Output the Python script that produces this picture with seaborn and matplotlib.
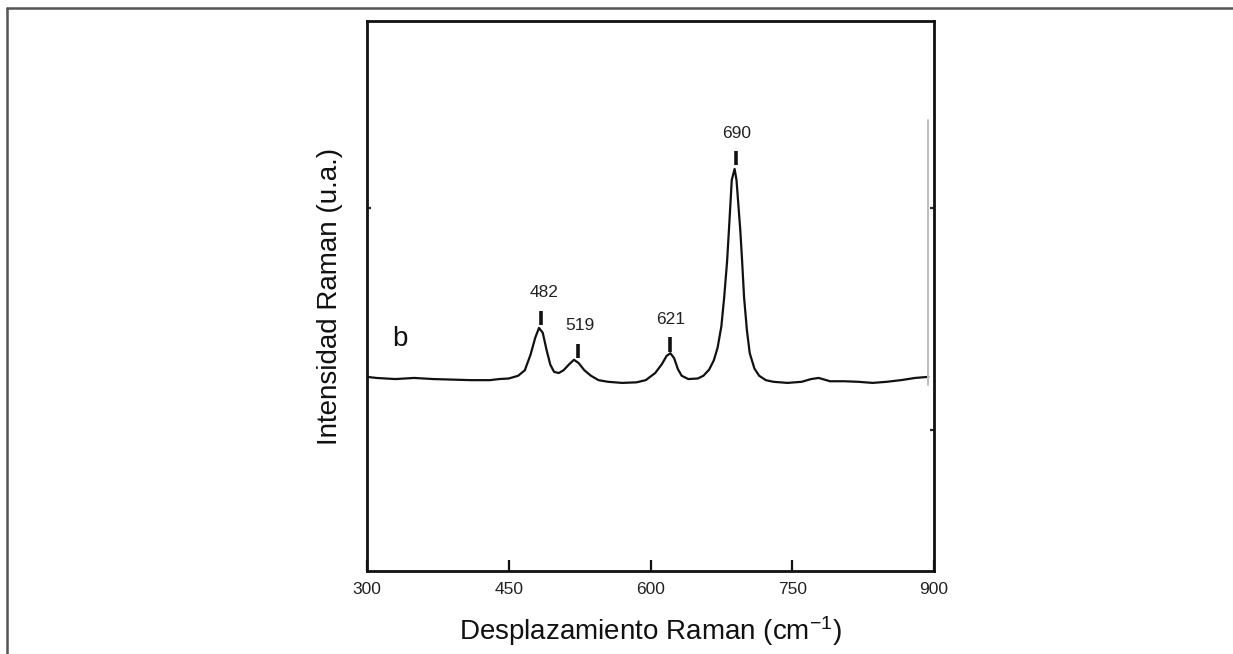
import matplotlib
matplotlib.use("Agg")
import pandas as pd
import seaborn as sns
from matplotlib import pyplot as plt
from matplotlib.lines import Line2D

# spectrum (cm-1, arbitrary units)
shift = [300, 310, 330, 350, 370, 390, 410, 430, 440, 450, 460, 467, 473, 478,
         482, 486, 490, 494, 498, 503, 508, 514, 519, 524, 530, 537, 545, 555,
         570, 585, 595, 605, 612, 617, 621, 625, 629, 633, 640, 650, 656, 662,
         667, 671, 675, 678, 681, 683, 686, 689, 691, 695, 697, 699, 702, 705,
         710, 715, 722, 730, 745, 760, 770, 778, 790, 805, 820, 835, 850, 865,
         880, 894]
intensity = [35.3, 35.1, 34.9, 35.1, 34.9, 34.8, 34.7, 34.7, 34.9, 35.0, 35.5,
             36.5, 39.3, 42.4, 44.2, 43.3, 40.2, 37.5, 36.2, 36.0, 36.5, 37.6,
             38.4, 37.8, 36.5, 35.5, 34.7, 34.4, 34.2, 34.3, 34.7, 36.0, 37.6,
             39.1, 39.6, 38.7, 36.7, 35.5, 34.9, 35.0, 35.5, 36.6, 38.3, 40.6,
             44.5, 49.8, 56.2, 62.0, 71.1, 73.1, 71.1, 62.0, 56.2, 49.8, 43.8,
             39.6, 36.8, 35.5, 34.7, 34.4, 34.2, 34.4, 34.9, 35.1, 34.5, 34.5,
             34.4, 34.2, 34.4, 34.7, 35.1, 35.3]

peak_labels = ["482", "519", "621", "690"]
peak_x = [484, 523, 621, 690.5]
mark_lo = [44.7, 38.7, 39.8, 73.8]
mark_hi = [47.3, 41.3, 42.5, 76.4]
label_x = [487, 525, 621, 691]
label_y = [50.7, 44.7, 45.8, 79.6]

x_ticks = [300, 450, 600, 750, 900]

df = pd.DataFrame({"shift": shift, "intensity": intensity})

sns.set_theme(style="ticks")
plt.rcParams["font.family"] = ["Liberation Sans", "DejaVu Sans"]
plt.rcParams["mathtext.default"] = "regular"

fig = plt.figure(figsize=(12.33, 6.54), dpi=100)
ax = fig.add_axes([367 / 1233, 83 / 654, 567 / 1233, 550 / 654])

sns.lineplot(data=df, x="shift", y="intensity", ax=ax, color="#111111",
             linewidth=1.6)

ax.vlines(peak_x, mark_lo, mark_hi, colors="#111111", linewidth=2.6)
for lab, lx, ly in zip(peak_labels, label_x, label_y):
    ax.text(lx, ly, lab, ha="center", va="center", fontsize=12.5,
            color="#222222")

ax.text(335, 42.2, "b", fontsize=20, ha="center", va="center",
        color="#111111")

# faint vertical trace near the right edge
ax.axvline(893.6, ymin=(571 - 385) / 550, ymax=(571 - 120) / 550,
           color="#bdbdbd", linewidth=1.4)

ax.set_xlim(300, 900)
ax.set_ylim(0, 100)
ax.set_xticks(x_ticks)
ax.set_xticklabels([str(t) for t in x_ticks])
ax.set_yticks([66])
ax.set_yticklabels([])
ax.set_yticks([25.6], minor=True)

for sp in ax.spines.values():
    sp.set_visible(True)
    sp.set_linewidth(2.0)
    sp.set_color("#111111")

ax.tick_params(axis="x", direction="in", length=8, width=1.6, labelsize=12.5,
               pad=8, colors="#111111", labelcolor="#222222", top=False)
ax.tick_params(axis="y", which="major", direction="in", length=3, width=1.6,
               left=True, right=True, labelleft=False)
ax.tick_params(axis="y", which="minor", direction="in", length=3, width=1.6,
               left=False, right=True)

ax.set_xlabel("Desplazamiento Raman (cm$^{-1}$)", fontsize=20, labelpad=12,
              color="#111111")
ax.set_ylabel("Intensidad Raman (u.a.)", fontsize=20, labelpad=14,
              color="#111111")

# outer frame of the original picture
fig.add_artist(Line2D([7 / 1233, 1.0], [1 - 8 / 654, 1 - 8 / 654],
                      transform=fig.transFigure, color="#555555", linewidth=1.8))
fig.add_artist(Line2D([7 / 1233, 7 / 1233], [0.0, 1 - 8 / 654],
                      transform=fig.transFigure, color="#555555", linewidth=1.8))

fig.savefig("out.png", dpi=100)
